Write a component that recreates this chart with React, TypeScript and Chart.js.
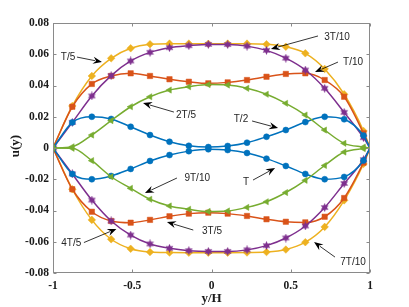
import React, { useEffect, useRef } from "react";
import { Chart, registerables } from "chart.js";
Chart.register(...registerables);

// sample positions (every 3rd point of a 50-point grid) plus the wall at y/H = 1
const xs = [-1, -0.878, -0.755, -0.633, -0.51, -0.388, -0.265, -0.143, -0.02, 0.102, 0.224, 0.347, 0.469, 0.592, 0.714, 0.837, 0.959, 1];

const uT10 = [0, 0.0264, 0.041, 0.0461, 0.0478, 0.0461, 0.044, 0.0424, 0.0414, 0.042, 0.0435, 0.0456, 0.0474, 0.0478, 0.0435, 0.0328, 0.0094, 0];
const uT5 = [0, 0.0269, 0.0461, 0.0574, 0.0638, 0.0664, 0.0668, 0.0668, 0.0667, 0.0668, 0.0668, 0.0664, 0.0648, 0.0606, 0.0506, 0.0344, 0.0109, 0];
const u3T10 = [0, 0.0164, 0.0333, 0.0463, 0.0557, 0.0612, 0.0642, 0.0655, 0.0663, 0.0662, 0.0652, 0.0625, 0.0575, 0.0499, 0.0382, 0.0228, 0.0066, 0];
const u2T5 = [0, 0.0008, 0.0083, 0.0175, 0.0264, 0.0328, 0.0371, 0.0392, 0.0406, 0.0403, 0.0382, 0.0344, 0.0286, 0.0211, 0.0115, 0.003, 0.0006, 0];
const uT2 = [0, 0.0164, 0.02, 0.0186, 0.0136, 0.0083, 0.004, 0.0014, 0.0006, 0.0013, 0.0034, 0.0072, 0.0115, 0.0166, 0.02, 0.0184, 0.008, 0];
const u3T5 = [0, -0.0264, -0.0408, -0.0467, -0.0478, -0.046, -0.0437, -0.042, -0.0414, -0.042, -0.0435, -0.0456, -0.0472, -0.0476, -0.044, -0.032, -0.0094, 0];
const u7T10 = [0, -0.0264, -0.046, -0.0584, -0.0645, -0.0666, -0.0669, -0.067, -0.067, -0.067, -0.0669, -0.0666, -0.065, -0.0603, -0.0505, -0.0335, -0.0102, 0];
const u4T5 = [0, -0.0166, -0.0333, -0.0467, -0.0557, -0.0614, -0.0642, -0.0657, -0.0662, -0.0662, -0.0652, -0.0625, -0.0576, -0.0499, -0.0381, -0.0227, -0.0075, 0];
const u9T10 = [0, -0.0002, -0.0081, -0.0184, -0.0258, -0.0328, -0.0371, -0.0392, -0.0406, -0.0403, -0.038, -0.0344, -0.0285, -0.0207, -0.0112, -0.0026, -0.0004, 0];
const uT = [0, -0.0166, -0.02, -0.0179, -0.0134, -0.0083, -0.0045, -0.002, -0.0008, -0.0013, -0.0032, -0.0068, -0.0115, -0.0166, -0.02, -0.0185, -0.008, 0];

const xTicks = [-1, -0.5, 0, 0.5, 1];
const yTicks = [-0.08, -0.06, -0.04, -0.02, 0, 0.02, 0.04, 0.06, 0.08];
const xTickLabels = ["-1", "-0.5", "0", "0.5", "1"];
const yTickLabels = ["-0.08", "-0.06", "-0.04", "-0.02", "0", "0.02", "0.04", "0.06", "0.08"];

// annotation labels: text position, arrow tail, arrow tip (data units)
const annLabels = ["T/5", "2T/5", "3T/10", "T/10", "T/2", "9T/10", "T", "3T/5", "4T/5", "7T/10"];
const annText = [[-0.905, 0.0582], [-0.161, 0.0211], [0.792, 0.071], [0.893, 0.055], [0.186, 0.0186], [-0.09, -0.0192], [0.218, -0.0218], [0.003, -0.0533], [-0.885, -0.0608], [0.893, -0.073]];
const annTail = [[-0.849, 0.0582], [-0.237, 0.023], [0.672, 0.0717], [0.798, 0.055], [0.256, 0.0173], [-0.218, -0.0192], [0.262, -0.0205], [-0.115, -0.0525], [-0.805, -0.0605], [0.779, -0.0698]];
const annTip = [[-0.691, 0.055], [-0.432, 0.0288], [0.375, 0.0634], [0.653, 0.0486], [0.42, 0.0128], [-0.42, -0.0288], [0.401, -0.0128], [-0.281, -0.0474], [-0.6, -0.0518], [0.647, -0.0602]];

const BLUE = "#0072BD", ORANGE = "#D95319", YELLOW = "#EDB120", PURPLE = "#7E2F8E", GREEN = "#77AC30";

function makeHexagram(color: string) {
  const c = document.createElement("canvas");
  c.width = 9; c.height = 9;
  const g = c.getContext("2d")!;
  g.fillStyle = color;
  g.beginPath();
  for (let i = 0; i < 12; i++) {
    const r = i % 2 === 0 ? 4.4 : 2.4;
    const a = -Math.PI / 2 + (i * Math.PI) / 6;
    const px = 4.5 + r * Math.cos(a), py = 4.5 + r * Math.sin(a);
    if (i === 0) g.moveTo(px, py); else g.lineTo(px, py);
  }
  g.closePath();
  g.fill();
  return c;
}

const overlay = {
  id: "overlay",
  afterDraw(chart: any) {
    const { ctx, chartArea: a, scales } = chart;
    const sx = scales.x, sy = scales.y;
    ctx.save();
    const L = Math.round(a.left) + 0.5, R = Math.round(a.right) - 0.5;
    const T = Math.round(a.top) + 0.5, B = Math.round(a.bottom) - 0.5;
    ctx.strokeStyle = "#8a8a8a";
    ctx.lineWidth = 1;
    ctx.strokeRect(L, T, R - L, B - T);
    ctx.beginPath();
    xTicks.forEach((v) => {
      const p = Math.round(sx.getPixelForValue(v)) + 0.5;
      ctx.moveTo(p, B); ctx.lineTo(p, B - 3);
      ctx.moveTo(p, T); ctx.lineTo(p, T + 3);
    });
    yTicks.forEach((v) => {
      const p = Math.round(sy.getPixelForValue(v)) + 0.5;
      ctx.moveTo(L, p); ctx.lineTo(L + 3, p);
      ctx.moveTo(R, p); ctx.lineTo(R - 3, p);
    });
    ctx.stroke();

    // axis titles
    ctx.fillStyle = "#1a1a1a";
    ctx.font = "bold 13px 'Liberation Serif'";
    ctx.textAlign = "center";
    ctx.textBaseline = "middle";
    ctx.fillText("y/H", (a.left + a.right) / 2, 299);
    ctx.save();
    ctx.translate(16, (a.top + a.bottom) / 2 - 2);
    ctx.rotate(-Math.PI / 2);
    ctx.fillText("u(y)", 0, 0);
    ctx.restore();

    // annotations
    ctx.font = "10px 'Liberation Sans'";
    annLabels.forEach((lab, i) => {
      const tx = sx.getPixelForValue(annText[i][0]), ty = sy.getPixelForValue(annText[i][1]);
      ctx.fillStyle = "#262626";
      ctx.fillText(lab, tx, ty);
      const x0 = sx.getPixelForValue(annTail[i][0]), y0 = sy.getPixelForValue(annTail[i][1]);
      const x1 = sx.getPixelForValue(annTip[i][0]), y1 = sy.getPixelForValue(annTip[i][1]);
      const ang = Math.atan2(y1 - y0, x1 - x0);
      const len = 9, hw = 3.6;
      ctx.strokeStyle = "#000";
      ctx.lineWidth = 0.8;
      ctx.beginPath();
      ctx.moveTo(x0, y0);
      ctx.lineTo(x1 - Math.cos(ang) * (len - 2), y1 - Math.sin(ang) * (len - 2));
      ctx.stroke();
      const bx = x1 - Math.cos(ang) * len, by = y1 - Math.sin(ang) * len;
      const nx = -Math.sin(ang), ny = Math.cos(ang);
      const cx = x1 - Math.cos(ang) * (len - 3), cy = y1 - Math.sin(ang) * (len - 3);
      ctx.fillStyle = "#000";
      ctx.beginPath();
      ctx.moveTo(x1, y1);
      ctx.lineTo(bx + nx * hw, by + ny * hw);
      ctx.lineTo(cx, cy);
      ctx.lineTo(bx - nx * hw, by - ny * hw);
      ctx.closePath();
      ctx.fill();
    });
    ctx.restore();
  },
};

export default function App() {
  const ref = useRef<HTMLCanvasElement>(null);
  useEffect(() => {
    if (!ref.current) return;
    const hex = makeHexagram(PURPLE);
    const last = xs.length - 1;
    const mk = (vals: number[], color: string, style: any, radius: number, rotation = 0) => ({
      data: xs.map((x, i) => ({ x, y: vals[i] })),
      borderColor: color,
      backgroundColor: color,
      borderWidth: 1.5,
      pointStyle: style,
      pointRotation: rotation,
      pointRadius: (c: any) => (c.dataIndex === last ? 0 : radius),
      pointBorderWidth: 0.5,
      pointBorderColor: color,
      pointBackgroundColor: color,
      cubicInterpolationMode: "monotone",
      fill: false,
    });
    const chart = new Chart(ref.current, {
      type: "line",
      data: {
        datasets: [
          mk(u2T5, GREEN, "triangle", 3.6, -90),
          mk(u9T10, GREEN, "triangle", 3.6, -90),
          mk(uT2, BLUE, "circle", 3),
          mk(uT, BLUE, "circle", 3),
          mk(u3T10, PURPLE, hex, 4),
          mk(u4T5, PURPLE, hex, 4),
          mk(uT10, ORANGE, "rect", 3.8),
          mk(u3T5, ORANGE, "rect", 3.8),
          mk(uT5, YELLOW, "rectRot", 3.8),
          mk(u7T10, YELLOW, "rectRot", 3.8),
        ] as any,
      },
      options: {
        animation: false,
        responsive: false,
        maintainAspectRatio: false,
        layout: { padding: { left: 0, right: 39, top: 23, bottom: 0 } },
        plugins: { legend: { display: false }, tooltip: { enabled: false } },
        scales: {
          x: {
            type: "linear",
            min: -1,
            max: 1,
            afterBuildTicks: (s: any) => { s.ticks = xTicks.map((v) => ({ value: v })); },
            afterFit: (s: any) => { s.height = 34; },
            ticks: {
              font: { family: "'Liberation Serif'", weight: "bold", size: 11.5 },
              color: "#1a1a1a",
              padding: 6,
              maxRotation: 0,
              autoSkip: false,
              callback: (v: any) => xTickLabels[xTicks.findIndex((t) => Math.abs(t - v) < 1e-9)],
            },
            grid: { display: false, drawTicks: false },
            border: { display: false },
          },
          y: {
            type: "linear",
            min: -0.08,
            max: 0.08,
            afterBuildTicks: (s: any) => { s.ticks = yTicks.map((v) => ({ value: v })); },
            afterFit: (s: any) => { s.width = 53; },
            ticks: {
              font: { family: "'Liberation Serif'", weight: "bold", size: 11.5 },
              color: "#1a1a1a",
              padding: 4,
              autoSkip: false,
              callback: (v: any) => yTickLabels[yTicks.findIndex((t) => Math.abs(t - v) < 1e-9)],
            },
            grid: { display: false, drawTicks: false },
            border: { display: false },
          },
        },
      } as any,
      plugins: [overlay],
    });
    return () => chart.destroy();
  }, []);
  return (
    <div style={{ position: "absolute", left: 0, top: 0, width: 409, height: 307, background: "#fff" }}>
      <canvas ref={ref} width={409} height={307} style={{ display: "block" }} />
    </div>
  );
}
